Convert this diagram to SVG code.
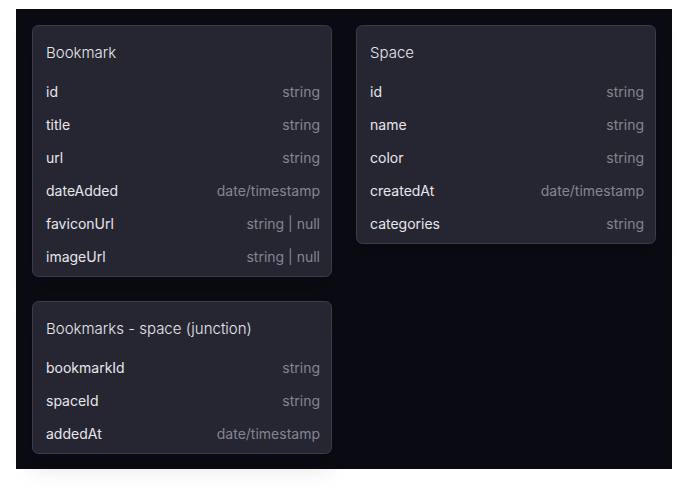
<svg xmlns="http://www.w3.org/2000/svg" width="688" height="493" viewBox="0 0 688 493">
<style>
.card{fill:#272733;stroke:#3b3b4a;stroke-width:1;filter:url(#sh)}
.title{font-family:Inter,"Noto Sans",sans-serif;font-size:15px;font-weight:300;fill:#e6e6ec}
.name{font-family:Inter,"Noto Sans",sans-serif;font-size:14px;font-weight:400;fill:#e6e6ec}
.type{font-family:Inter,"Noto Sans",sans-serif;font-size:14px;font-weight:400;fill:#85858f;text-anchor:end}
</style>
<defs>
<filter id="sh" x="-30%" y="-30%" width="160%" height="180%">
<feDropShadow dx="0" dy="12" stdDeviation="12" flood-color="#000" flood-opacity="0.12"/>
</filter>
</defs>
<rect x="0" y="0" width="688" height="493" fill="#ffffff"/>
<rect x="16" y="9" width="656" height="460" fill="#0a0a12"/>
<g id="connectors"></g>
<g id="bookmark">
<rect class="card" x="32.5" y="25.5" width="299" height="251" rx="6"/>
<text class="title" x="46" y="58">Bookmark</text>
<text class="name" x="46" y="97">id</text><text class="type" x="320" y="97">string</text>
<text class="name" x="46" y="130">title</text><text class="type" x="320" y="130">string</text>
<text class="name" x="46" y="163">url</text><text class="type" x="320" y="163">string</text>
<text class="name" x="46" y="196">dateAdded</text><text class="type" x="320" y="196">date/timestamp</text>
<text class="name" x="46" y="229">faviconUrl</text><text class="type" x="320" y="229">string | null</text>
<text class="name" x="46" y="262">imageUrl</text><text class="type" x="320" y="262">string | null</text>
</g>
<g id="space">
<rect class="card" x="356.5" y="25.5" width="299" height="218" rx="6"/>
<text class="title" x="370" y="58">Space</text>
<text class="name" x="370" y="97">id</text><text class="type" x="644" y="97">string</text>
<text class="name" x="370" y="130">name</text><text class="type" x="644" y="130">string</text>
<text class="name" x="370" y="163">color</text><text class="type" x="644" y="163">string</text>
<text class="name" x="370" y="196">createdAt</text><text class="type" x="644" y="196">date/timestamp</text>
<text class="name" x="370" y="229">categories</text><text class="type" x="644" y="229">string</text>
</g>
<g id="junction">
<rect class="card" x="32.5" y="301.5" width="299" height="152" rx="6"/>
<text class="title" x="46" y="334">Bookmarks - space (junction)</text>
<text class="name" x="46" y="373">bookmarkId</text><text class="type" x="320" y="373">string</text>
<text class="name" x="46" y="406">spaceId</text><text class="type" x="320" y="406">string</text>
<text class="name" x="46" y="439">addedAt</text><text class="type" x="320" y="439">date/timestamp</text>
</g>
</svg>
